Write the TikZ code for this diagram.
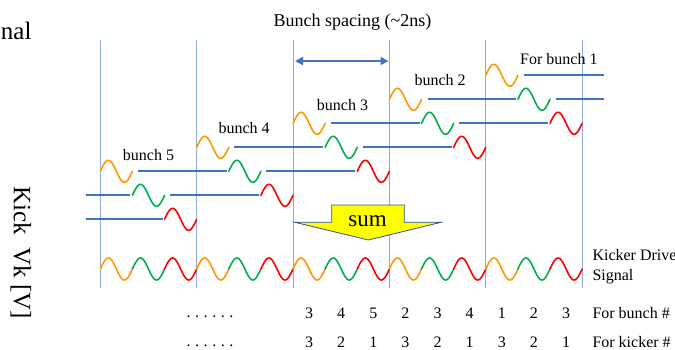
\documentclass[tikz,border=0pt]{standalone}
\usepackage{fontspec}
\setmainfont{Liberation Serif}
\usetikzlibrary{arrows.meta}
\definecolor{lblue}{HTML}{8FAADC}
\definecolor{mblue}{HTML}{4472C4}
\definecolor{wor}{RGB}{255,153,0}
\definecolor{wgr}{HTML}{00B050}
\definecolor{wrd}{HTML}{FF0000}
\definecolor{edgeblue}{HTML}{2F5597}
\definecolor{sumyellow}{HTML}{FFFF00}
\tikzset{
  vline/.style={lblue, line width=0.9pt},
  hline/.style={mblue, line width=1.8pt},
  wavestyle/.style={line width=1.6pt, line cap=round},
  lbl/.style={font=\fontsize{16}{19}\selectfont, inner sep=0pt, anchor=base},
  lblw/.style={lbl, anchor=base west},
  bigtxt/.style={font=\fontsize{25}{30}\selectfont, inner sep=0pt},
  sumshape/.style={fill=sumyellow, draw=edgeblue, line width=0.8pt, line join=miter},
  spacearrow/.style={mblue, line width=1.8pt, {Triangle[length=8pt,width=8pt]}-{Triangle[length=8pt,width=8pt]}}
}
\newcommand\wv[3]{\draw[wavestyle,#1] plot[domain=0:1,samples=41,smooth,variable=\t] ({#2+32.12*\t},{#3-11*sin(360*\t)});}
\begin{document}
\begin{tikzpicture}[x=1pt,y=-1pt]
\useasboundingbox (0,0) rectangle (675,349);
% vertical grid lines
\foreach \i in {0,...,5} \draw[vline] ({100.3+96.37*\i},40) -- ({100.3+96.37*\i},288);
% title and spacing arrow
\node[lbl, font=\fontsize{18}{22}\selectfont] (title) at (352.5,26) {Bunch spacing (\char"007E 2ns)};
\coordinate (sL) at (295,61);
\coordinate (sR) at (388.5,61);
\draw[spacearrow] (sL) -- (sR);
% left labels
\node[bigtxt, anchor=base east] (nal) at (31.7,39) {nal};
\node[bigtxt, rotate=-90] (kick) at (21,252.5) {Kick~~Vk [V]};
% bunch labels
\node[lblw] (b5) at (122.7,160) {bunch 5};
\node[lblw] (b4) at (218.3,133.3) {bunch 4};
\node[lblw] (b3) at (316.7,110) {bunch 3};
\node[lblw] (b2) at (414.3,85) {bunch 2};
\node[lblw] (b1) at (520,64.3) {For bunch 1};
% row 0
\wv{wor}{485.78}{75.3}
\draw[hline] (523.9,75.3) -- (604,75.3);
% row 1
\wv{wor}{389.41}{99.3}
\wv{wgr}{517.90}{99.3}
\draw[hline] (427.5,99.3) -- (515.9,99.3);
\draw[hline] (555.5,99.3) -- (604,99.3);
% row 2
\wv{wor}{293.04}{123.3}
\wv{wgr}{421.53}{123.3}
\wv{wrd}{550.02}{123.3}
\draw[hline] (330.7,123.3) -- (419.5,123.3);
\draw[hline] (459.2,123.3) -- (548,123.3);
% row 3
\wv{wor}{196.67}{147.3}
\wv{wgr}{325.16}{147.3}
\wv{wrd}{453.65}{147.3}
\draw[hline] (234.3,147.3) -- (323.2,147.3);
\draw[hline] (362.8,147.3) -- (451.7,147.3);
% row 4
\wv{wor}{100.3}{171.3}
\wv{wgr}{228.79}{171.3}
\wv{wrd}{357.28}{171.3}
\draw[hline] (137.9,171.3) -- (226.8,171.3);
\draw[hline] (266.4,171.3) -- (355.3,171.3);
% row 5
\wv{wgr}{132.42}{195.3}
\wv{wrd}{260.91}{195.3}
\draw[hline] (86,195.3) -- (130.4,195.3);
\draw[hline] (170,195.3) -- (258.9,195.3);
% row 6
\wv{wrd}{164.54}{219.3}
\draw[hline] (86,219.3) -- (162.5,219.3);
% sum arrow
\draw[sumshape] (295,222.3) -- (331.7,222.3) -- (331.7,205) -- (404.3,205) -- (404.3,222.3) -- (441,222.3) -- (368.3,240) -- cycle;
\node[inner sep=0pt, anchor=base, font=\fontsize{23}{27}\selectfont] (sum) at (367.5,226.5) {sum};
% kicker drive signal
\foreach \i in {0,3,...,12} {
  \wv{wor}{100.3+32.123*\i}{269}
  \wv{wgr}{100.3+32.123*(\i+1)}{269}
  \wv{wrd}{100.3+32.123*(\i+2)}{269}
}
\node[lblw] (kd1) at (592.3,260) {Kicker Drive};
\node[lblw] (kd2) at (592.3,280) {Signal};
% number rows
\node[lbl] (d1) at (210,317.5) {.\hspace{4.6pt}.\hspace{4.6pt}.\hspace{4.6pt}.\hspace{4.6pt}.\hspace{4.6pt}.};
\node[lbl] (d2) at (210,346.5) {.\hspace{4.6pt}.\hspace{4.6pt}.\hspace{4.6pt}.\hspace{4.6pt}.\hspace{4.6pt}.};
\foreach \n [count=\i from 0] in {3,4,5,2,3,4,1,2,3}
  \node[lbl] at ({293.04+32.123*(\i+0.5)},318) {\n};
\foreach \n [count=\i from 0] in {3,2,1,3,2,1,3,2,1}
  \node[lbl] at ({293.04+32.123*(\i+0.5)},347) {\n};
\node[lblw] (fb) at (592.3,318) {For bunch \#};
\node[lblw] (fk) at (592.3,347) {For kicker \#};
\end{tikzpicture}
\end{document}
